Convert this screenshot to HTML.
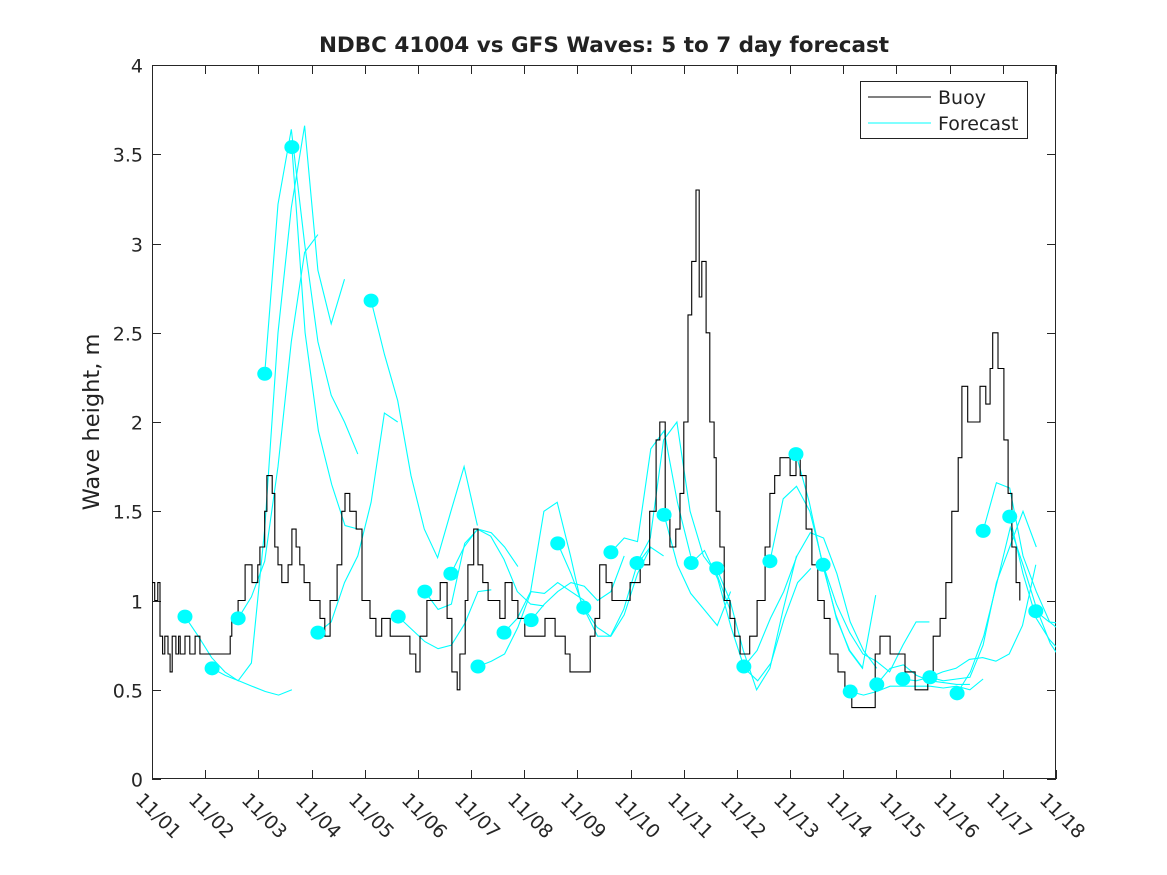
<!DOCTYPE html>
<html><head><meta charset="utf-8"><style>
body{margin:0;background:#fff}
svg{display:block;font-family:"DejaVu Sans","Liberation Sans",sans-serif}
</style></head><body>
<svg id="chart" width="1167" height="875" viewBox="0 0 1167 875">
<rect width="1167" height="875" fill="#fff"/>
<text x="604" y="52" text-anchor="middle" font-size="21.5" font-weight="bold" fill="#222">NDBC 41004 vs GFS Waves: 5 to 7 day forecast</text>
<text transform="translate(99,422) rotate(-90)" text-anchor="middle" font-size="22.5" fill="#222">Wave height, m</text>
<g id="axes"></g>
<g id="plot"></g>
<g id="legend">
<rect x="860.5" y="81.5" width="167" height="57" fill="#fff" stroke="#222" stroke-width="1"/>
<line x1="868" y1="97" x2="931" y2="97" stroke="#000" stroke-width="1"/>
<text x="938" y="104" font-size="19" fill="#222">Buoy</text>
<line x1="868" y1="123" x2="931" y2="123" stroke="#00ffff" stroke-width="1"/>
<text x="938" y="130" font-size="19" fill="#222">Forecast</text>
</g>
</svg>
<script>
const yTicks=[0,0.5,1,1.5,2,2.5,3,3.5,4];
const yTickLabels=["0","0.5","1","1.5","2","2.5","3","3.5","4"];
const xTickLabels=["11/01","11/02","11/03","11/04","11/05","11/06","11/07","11/08","11/09","11/10","11/11","11/12","11/13","11/14","11/15","11/16","11/17","11/18"];
const buoyDays=[0,0.05,0.11,0.15,0.2,0.24,0.3,0.34,0.38,0.45,0.5,0.53,0.62,0.71,0.81,0.9,1.0,1.47,1.5,1.62,1.75,1.88,1.99,2.03,2.12,2.16,2.26,2.31,2.37,2.44,2.56,2.63,2.71,2.78,2.86,2.97,3.16,3.25,3.35,3.48,3.57,3.63,3.72,3.84,3.95,4.1,4.21,4.32,4.48,4.57,4.85,4.96,5.04,5.17,5.27,5.42,5.55,5.64,5.74,5.79,5.89,5.94,6.05,6.13,6.22,6.32,6.43,6.54,6.64,6.77,6.88,7.01,7.3,7.39,7.58,7.77,7.86,8.14,8.24,8.33,8.42,8.54,8.65,8.8,8.99,9.18,9.36,9.48,9.55,9.65,9.74,9.85,9.93,10.0,10.08,10.15,10.23,10.29,10.34,10.42,10.49,10.57,10.61,10.68,10.76,10.87,10.96,11.06,11.15,11.24,11.38,11.53,11.62,11.71,11.81,11.92,12.0,12.11,12.19,12.3,12.41,12.52,12.64,12.75,12.9,13.03,13.16,13.5,13.6,13.69,13.76,13.88,14.07,14.16,14.25,14.35,14.48,14.59,14.69,14.82,14.93,15.04,15.16,15.23,15.34,15.48,15.57,15.68,15.76,15.81,15.91,16.02,16.1,16.17,16.25,16.32];
const buoyValues=[1.1,1.0,1.1,0.8,0.7,0.8,0.7,0.6,0.8,0.7,0.8,0.7,0.8,0.7,0.8,0.7,0.7,0.8,0.9,1.0,1.2,1.1,1.2,1.3,1.5,1.7,1.6,1.3,1.2,1.1,1.2,1.4,1.3,1.2,1.1,1.0,0.9,0.8,1.0,1.2,1.5,1.6,1.5,1.4,1.0,0.9,0.8,0.9,0.8,0.8,0.7,0.6,0.8,1.0,1.0,1.1,0.9,0.6,0.5,0.7,1.0,1.2,1.4,1.2,1.1,1.0,1.0,0.9,1.1,1.0,0.9,0.8,0.8,0.9,0.8,0.7,0.6,0.6,0.8,0.9,1.2,1.1,1.0,1.0,1.1,1.2,1.5,1.9,2.0,1.5,1.3,1.4,1.6,2.0,2.6,2.9,3.3,2.7,2.9,2.5,2.0,1.8,1.5,1.3,1.0,0.9,0.8,0.7,0.7,0.8,1.0,1.3,1.6,1.7,1.8,1.8,1.7,1.8,1.7,1.4,1.2,1.0,0.9,0.7,0.6,0.5,0.4,0.4,0.7,0.8,0.8,0.7,0.7,0.6,0.6,0.5,0.5,0.6,0.8,0.9,1.1,1.5,1.8,2.2,2.0,2.0,2.2,2.1,2.3,2.5,2.3,1.9,1.6,1.3,1.1,1.0];
const fcStartDays=[0.62,1.13,1.62,2.12,2.63,3.12,4.12,4.63,5.13,5.62,6.13,6.62,7.13,7.63,8.12,8.63,9.12,9.63,10.14,10.62,11.13,11.62,12.11,12.62,13.13,13.63,14.12,14.63,15.14,15.63,16.13,16.62];
const fcValues=[
[0.91,0.80,0.68,0.60,0.55,0.65,1.4,2.5,3.2,3.66,2.85,2.55,2.8],
[0.62,0.58,0.55,0.52,0.49,0.47,0.50],
[0.90,1.02,1.22,1.75,2.45,2.95,3.05],
[2.27,3.22,3.64,3.0,2.45,2.15,2.0,1.82],
[3.54,2.5,1.95,1.65,1.42,1.40],
[0.82,0.88,1.10,1.25,1.55,2.05,2.0],
[2.68,2.38,2.12,1.70,1.40,1.24,1.50,1.75,1.42],
[0.91,0.84,0.77,0.73,0.75,0.87,1.05,1.06],
[1.05,0.95,0.98,1.32,1.40,1.38,1.30,1.19],
[1.15,1.30,1.40,1.36,1.23,1.05,0.98,0.97],
[0.63,0.66,0.70,0.85,1.05,1.04,1.10,1.05,1.0],
[0.82,0.90,1.05,1.50,1.55,1.25,0.92],
[0.89,0.98,1.05,1.10,1.08,1.00,1.05,1.25],
[1.32,1.15,0.95,0.80,0.80,0.92,1.15,1.30],
[0.96,0.85,0.80,0.95,1.20,1.30,1.25],
[1.27,1.35,1.33,1.85,1.95,1.55,1.25],
[1.21,1.35,1.90,2.00,1.50,1.25,1.15,0.95],
[1.48,1.20,1.04,0.95,0.86,1.05],
[1.21,1.28,1.12,0.85,0.62,0.55,0.65,0.90,1.10,1.18],
[1.18,1.00,0.72,0.50,0.62,0.95,1.25],
[0.63,0.72,0.90,1.05,1.25,1.38,1.35,1.15,0.88,0.72,0.62],
[1.22,1.57,1.64,1.50,1.20,0.90,0.72,0.62],
[1.82,1.55,1.20,0.92,0.72,0.62,1.03],
[1.20,0.98,0.82,0.70,0.66,0.60,0.75,0.88,0.88],
[0.49,0.47,0.49,0.52,0.52,0.52,0.52,0.51,0.52,0.50,0.56],
[0.53,0.62,0.64,0.58,0.55,0.54,0.53,0.53],
[0.56,0.55,0.57,0.60,0.62,0.67,0.68,0.66,0.70,0.86,1.2],
[0.57,0.55,0.56,0.57,0.75,1.10,1.30,1.50,1.30],
[0.48,0.60,0.80,1.10,1.41,1.19,0.95,0.76,0.65],
[1.39,1.66,1.63,1.25,1.05,0.88,0.82],
[1.47,1.15,0.90,0.78,0.70,0.56],
[0.94,0.88,0.87]];
const fcStep=0.25;

const X0=152,X1=1056,Y0=779,Y1=65,DMAX=17,VMAX=4;
function xs(d){return X0+(X1-X0)*d/DMAX;}
function ys(v){return Y0-(Y0-Y1)*v/VMAX;}
const NS="http://www.w3.org/2000/svg";
function mk(tag,attrs,parent){const e=document.createElementNS(NS,tag);for(const k in attrs)e.setAttribute(k,attrs[k]);parent.appendChild(e);return e;}
const axes=document.getElementById('axes');
const plot=document.getElementById('plot');

const defs=mk('defs',{},plot);
const cp=mk('clipPath',{id:'clip'},defs);
mk('rect',{x:X0,y:Y1,width:X1-X0,height:Y0-Y1},cp);

const box=mk('rect',{x:X0+0.5,y:Y1+0.5,width:X1-X0-1,height:Y0-Y1-1,fill:'none',stroke:'#262626','stroke-width':1},axes);



yTicks.forEach((v,i)=>{
  const y=Math.round(ys(v))+0.5;
  const t1=mk('line',{x1:X0,y1:y,x2:X0+9,y2:y,stroke:'#262626'},axes);
  
  
  const t2=mk('line',{x1:X1-9,y1:y,x2:X1,y2:y,stroke:'#262626'},axes);
  
  
  const tx=mk('text',{x:X0-9,y:y+7,'text-anchor':'end','font-size':19,fill:'#262626'},axes);
  tx.textContent=yTickLabels[i];
  
  
});
xTickLabels.forEach((lab,i)=>{
  const x=Math.round(xs(i))+0.5;
  const t1=mk('line',{x1:x,y1:Y0,x2:x,y2:Y0-9,stroke:'#262626'},axes);
  
  
  const t2=mk('line',{x1:x,y1:Y1,x2:x,y2:Y1+9,stroke:'#262626'},axes);
  
  
  const tx=mk('text',{transform:'translate('+(x-18)+','+(Y0+22)+') rotate(45)','font-size':19,fill:'#262626'},axes);
  tx.textContent=lab;
  
  
});

const g=mk('g',{'clip-path':'url(#clip)'},plot);
fcValues.forEach((vals,i)=>{
  const pts=vals.map((v,j)=>xs(fcStartDays[i]+j*fcStep).toFixed(1)+','+ys(v).toFixed(1)).join(' ');
  const pl=mk('polyline',{points:pts,fill:'none',stroke:'#00ffff','stroke-width':1.1},g);
  
  
});
let bp=[];
for(let i=0;i<buoyDays.length;i++){
  const x=xs(buoyDays[i]).toFixed(1);
  if(i>0)bp.push(x+','+ys(buoyValues[i-1]).toFixed(1));
  bp.push(x+','+ys(buoyValues[i]).toFixed(1));
}
const bl=mk('polyline',{points:bp.join(' '),fill:'none',stroke:'#000','stroke-width':1.1},g);


fcValues.forEach((vals,i)=>{
  const c=mk('ellipse',{cx:xs(fcStartDays[i]),cy:ys(vals[0]),rx:7.5,ry:7,fill:'#00ffff'},g);
  
  
});
</script>
</body></html>
